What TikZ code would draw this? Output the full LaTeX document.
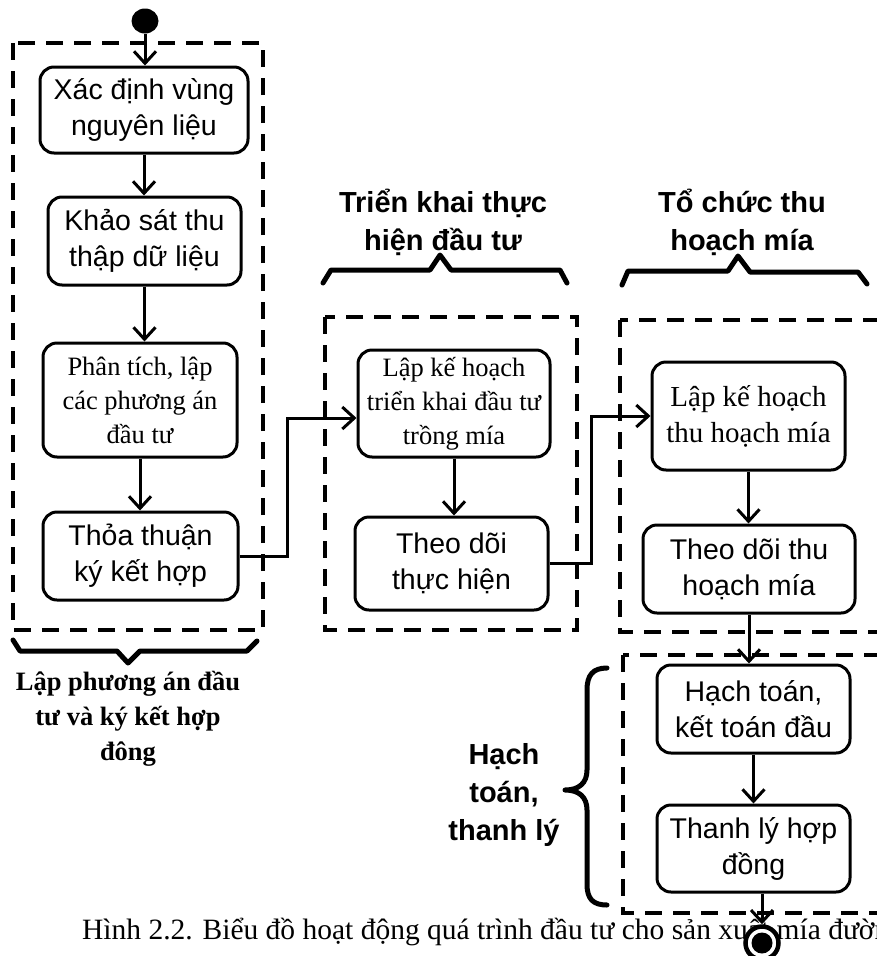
\documentclass[tikz,border=0pt]{standalone}
\usepackage{fontspec}
\setmainfont{Liberation Serif}
\setsansfont{Liberation Sans}
\usetikzlibrary{arrows.meta,shapes.geometric}

\begin{document}
\begin{tikzpicture}[x=1pt,y=-1pt,
  act/.style={draw, line width=3pt, rounded corners=14pt, fill=white,
    align=center, inner sep=0pt},
  sans/.style={font=\sffamily\fontsize{28.5}{36}\selectfont},
  serifa/.style={font=\rmfamily\fontsize{26.5}{34}\selectfont},
  serifb/.style={font=\rmfamily\fontsize{29}{36}\selectfont},
  lane/.style={draw, line width=4pt, dash pattern=on 17pt off 11pt},
  flow/.style={line width=3pt, -{Straight Barb[length=12pt,width=22pt]}},
  brace/.style={line width=5pt, line join=round, line cap=round},
  phase/.style={font=\sffamily\bfseries\fontsize{29}{38}\selectfont,
    align=center, inner sep=0pt, anchor=base},
  phaseserif/.style={font=\rmfamily\bfseries\fontsize{26.5}{35}\selectfont,
    align=center, inner sep=0pt, anchor=base},
]
\useasboundingbox (0,0) rectangle (877,956);
\clip (0,0) rectangle (877,956);

% swimlane frames
\draw[lane] (13,43) rectangle (263,630);
\draw[lane] (325,317) rectangle (577,630);
\draw[lane] (620,320) rectangle (900,632);
\draw[lane] (623,655) rectangle (900,913);

% braces and phase titles (anchored on the baseline of the last line)
\draw[brace] (13,640) -- (20,651) -- (117,651) -- (128,663) -- (140,651)
  -- (247,651) -- (257,641);
\draw[brace] (323,283) -- (331,270) -- (430,270) -- (440,255) -- (451,270)
  -- (560,270) -- (567,283);
\draw[brace] (622,285) -- (628,271) -- (728,271) -- (738,256) -- (750,272)
  -- (858,272) -- (867,284);
\draw[brace] (607,668) .. controls (593,668) and (587,675) .. (587,690)
  -- (587,770) .. controls (587,783) and (579,790) .. (565,790)
  .. controls (579,790) and (587,797) .. (587,810)
  -- (587,884) .. controls (587,899) and (593,905) .. (607,905);

\node[phaseserif] (p1) at (128,760) {Lập phương án đầu\\tư và ký kết hợp\\đông};
\node[phase] (p2) at (443,250) {Triển khai thực\\hiện đầu tư};
\node[phase] (p3) at (742,250) {Tổ chức thu\\hoạch mía};
\node[phase] (p4) at (504,840) {Hạch\\toán,\\thanh lý};

% caption
\node[font=\rmfamily\fontsize{29.5}{36}\selectfont, anchor=base west,
  inner sep=0pt] (cap) at (82,939)
  {Hình 2.2. Biểu đồ hoạt động quá trình đầu tư cho sản xuất mía đường};

% activities
\node[act, sans, minimum width=208pt, minimum height=86pt] (xd) at (144,110)
  {Xác định vùng\\nguyên liệu};
\node[act, sans, minimum width=193pt, minimum height=88pt] (ks) at (144.5,241)
  {Khảo sát thu\\thập dữ liệu};
\node[act, serifa, minimum width=194pt, minimum height=114pt] (pt) at (140,400)
  {Phân tích, lập\\các phương án\\đầu tư};
\node[act, sans, minimum width=195pt, minimum height=88pt] (tt) at (140.5,556)
  {Thỏa thuận\\ký kết hợp};
\node[act, serifa, minimum width=192pt, minimum height=107pt] (lk1) at (454,403.5)
  {Lập kế hoạch\\triển khai đầu tư\\trồng mía};
\node[act, sans, minimum width=193pt, minimum height=93pt] (td1) at (451.5,563.5)
  {Theo dõi\\thực hiện};
\node[act, serifb, minimum width=193pt, minimum height=108pt] (lk2) at (748.5,416)
  {Lập kế hoạch\\thu hoạch mía};
\node[act, sans, minimum width=212pt, minimum height=88pt] (td2) at (749,569)
  {Theo dõi thu\\hoạch mía};
\node[act, sans, minimum width=193pt, minimum height=88pt] (ht) at (753.5,709)
  {Hạch toán,\\kết toán đầu};
\node[act, sans, minimum width=193pt, minimum height=87pt] (tl) at (753.5,848.5)
  {Thanh lý hợp\\đồng};

% initial and final states
\node[ellipse, fill=black, minimum width=27pt, minimum height=25pt,
  inner sep=0pt] (start) at (145,21) {};
\node[circle, draw, line width=4.5pt, fill=white, minimum size=33pt,
  inner sep=0pt] (end) at (762,943) {};
\fill (end.center) circle (10.5pt);

% control flow
\draw[flow] (start.south) -- (start.south |- xd.north);
\draw[flow] (xd.south) -- (xd.south |- ks.north);
\draw[flow] (ks.south) -- (ks.south |- pt.north);
\draw[flow] (pt.south) -- (pt.south |- tt.north);
\draw[flow] (tt.east) -- ++(48,0) |- ([yshift=-14.5pt]lk1.west);
\draw[flow] (lk1.south) -- (lk1.south |- td1.north);
\draw[flow] (td1.east) -- ++(42,0) |- (lk2.west);
\draw[flow] (lk2.south) -- (lk2.south |- td2.north);
\draw[flow] (td2.south) -- (td2.south |- ht.north);
\draw[flow] (ht.south) -- (ht.south |- tl.north);
\draw[flow] (tl.south -| end.north) -- (end.north);
\end{tikzpicture}
\end{document}
